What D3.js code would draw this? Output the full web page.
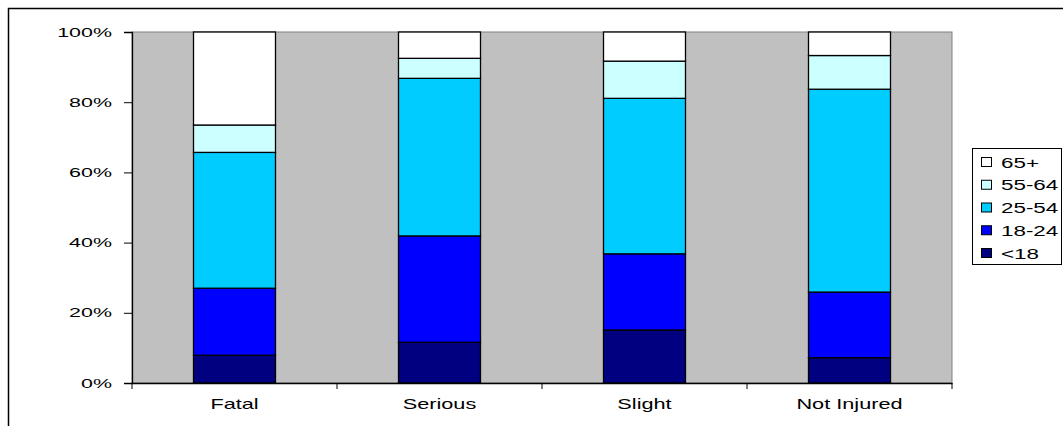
<!DOCTYPE html>
<html>
<head>
<meta charset="utf-8">
<script src="https://cdn.jsdelivr.net/npm/d3@7"></script>
<style>
  html, body { margin: 0; padding: 0; background: #fff; }
  svg { display: block; font-family: "Liberation Sans", Arial, Helvetica, sans-serif; }
</style>
</head>
<body>
<svg id="chart" width="1063" height="426"></svg>
<script>
// Casualty severity by age group, as share of each severity class (%)
const categories = ["Fatal", "Serious", "Slight", "Not Injured"];
const ageGroups = ["<18", "18-24", "25-54", "55-64", "65+"];
const under18 = [7.9, 11.6, 15.1, 7.2];
const age18to24 = [19.1, 30.3, 21.7, 18.7];
const age25to54 = [38.7, 44.9, 44.3, 57.8];
const age55to64 = [7.8, 5.7, 10.6, 9.6];
const age65plus = [26.5, 7.5, 8.3, 6.7];
const yTicks = [0, 20, 40, 60, 80, 100];
const colors = ["#000080", "#0000FF", "#00CCFF", "#CCFFFF", "#FFFFFF"];

const seriesValues = [under18, age18to24, age25to54, age55to64, age65plus];
const rows = categories.map((c, i) => {
  const r = { category: c };
  ageGroups.forEach((g, j) => { r[g] = seriesValues[j][i]; });
  return r;
});

// labels are drawn in a wide, horizontally stretched face
const STRETCH_X = 1.55, STRETCH_Y = 1.65, STRETCH_L = 1.6;

const svg = d3.select("#chart");
const plot = { left: 132, right: 952, top: 32, bottom: 383 };

// outer chart frame
svg.append("rect")
  .attr("x", 8.5).attr("y", 8.5)
  .attr("width", 1100).attr("height", 500)
  .attr("fill", "none").attr("stroke", "#000").attr("stroke-width", 1.5);

const x = d3.scaleBand().domain(categories)
  .range([plot.left, plot.right]).paddingInner(0.6).paddingOuter(0.3);
const band = d3.scaleBand().domain(categories).range([plot.left, plot.right]);
const y = d3.scaleLinear().domain([0, 100]).range([plot.bottom, plot.top]);

// plot area
svg.append("rect")
  .attr("x", plot.left).attr("y", plot.top)
  .attr("width", plot.right - plot.left).attr("height", plot.bottom - plot.top)
  .attr("fill", "#C0C0C0").attr("stroke", "#808080").attr("stroke-width", 1);

const stack = d3.stack().keys(ageGroups)(rows);

svg.append("g").selectAll("g")
  .data(stack)
  .join("g")
  .attr("fill", (d, i) => colors[i])
  .selectAll("rect")
  .data(d => d)
  .join("rect")
  .attr("x", d => x(d.data.category))
  .attr("width", x.bandwidth())
  .attr("y", d => y(d[1]))
  .attr("height", d => y(d[0]) - y(d[1]))
  .attr("stroke", "#000")
  .attr("stroke-width", 1.3);

// y axis
const yAxis = svg.append("g")
  .attr("transform", `translate(${plot.left},0)`)
  .call(d3.axisLeft(y).tickValues(yTicks).tickFormat(d => d + "%").tickSize(8));
yAxis.select(".domain").attr("stroke", "#000").attr("stroke-width", 1.3);
yAxis.selectAll(".tick line").attr("stroke", "#000");
yAxis.selectAll("text")
  .attr("font-size", 13).attr("fill", "#000")
  .attr("font-family", "'Liberation Sans', Arial, sans-serif")
  .attr("x", -20 / STRETCH_Y)
  .attr("transform", `scale(${STRETCH_Y},1)`);

// x axis with ticks on category boundaries
const xAxis = svg.append("g")
  .attr("transform", `translate(0,${plot.bottom})`)
  .call(d3.axisBottom(band).tickSize(0).tickPadding(16));
xAxis.select(".domain").attr("stroke", "#000").attr("stroke-width", 1.3);
xAxis.selectAll("text")
  .attr("font-size", 14).attr("fill", "#000")
  .attr("font-family", "'Liberation Sans', Arial, sans-serif")
  .attr("transform", `scale(${STRETCH_X},1)`);
const boundaries = categories.map(c => band(c)).concat([band.range()[1]]);
xAxis.selectAll(".bound")
  .data(boundaries)
  .join("line")
  .attr("class", "bound")
  .attr("x1", d => d).attr("x2", d => d)
  .attr("y1", 0).attr("y2", 6)
  .attr("stroke", "#000");

// legend
const legend = svg.append("g");
legend.append("rect")
  .attr("x", 972.5).attr("y", 148.5)
  .attr("width", 89).attr("height", 116)
  .attr("fill", "#fff").attr("stroke", "#000").attr("stroke-width", 1);
const legendOrder = ageGroups.slice().reverse();
const legendY = d3.scalePoint().domain(legendOrder).range([162, 253]);
const items = legend.selectAll("g.item")
  .data(legendOrder)
  .join("g")
  .attr("class", "item")
  .attr("transform", d => `translate(981,${legendY(d)})`);
items.append("rect")
  .attr("x", 0.5).attr("y", -4.5)
  .attr("width", 10).attr("height", 9)
  .attr("fill", d => colors[ageGroups.indexOf(d)])
  .attr("stroke", "#000").attr("stroke-width", 1);
items.append("text")
  .attr("x", 20 / STRETCH_L).attr("y", 5.5)
  .attr("font-size", 14)
  .attr("transform", `scale(${STRETCH_L},1)`)
  .text(d => d);
</script>
</body>
</html>
